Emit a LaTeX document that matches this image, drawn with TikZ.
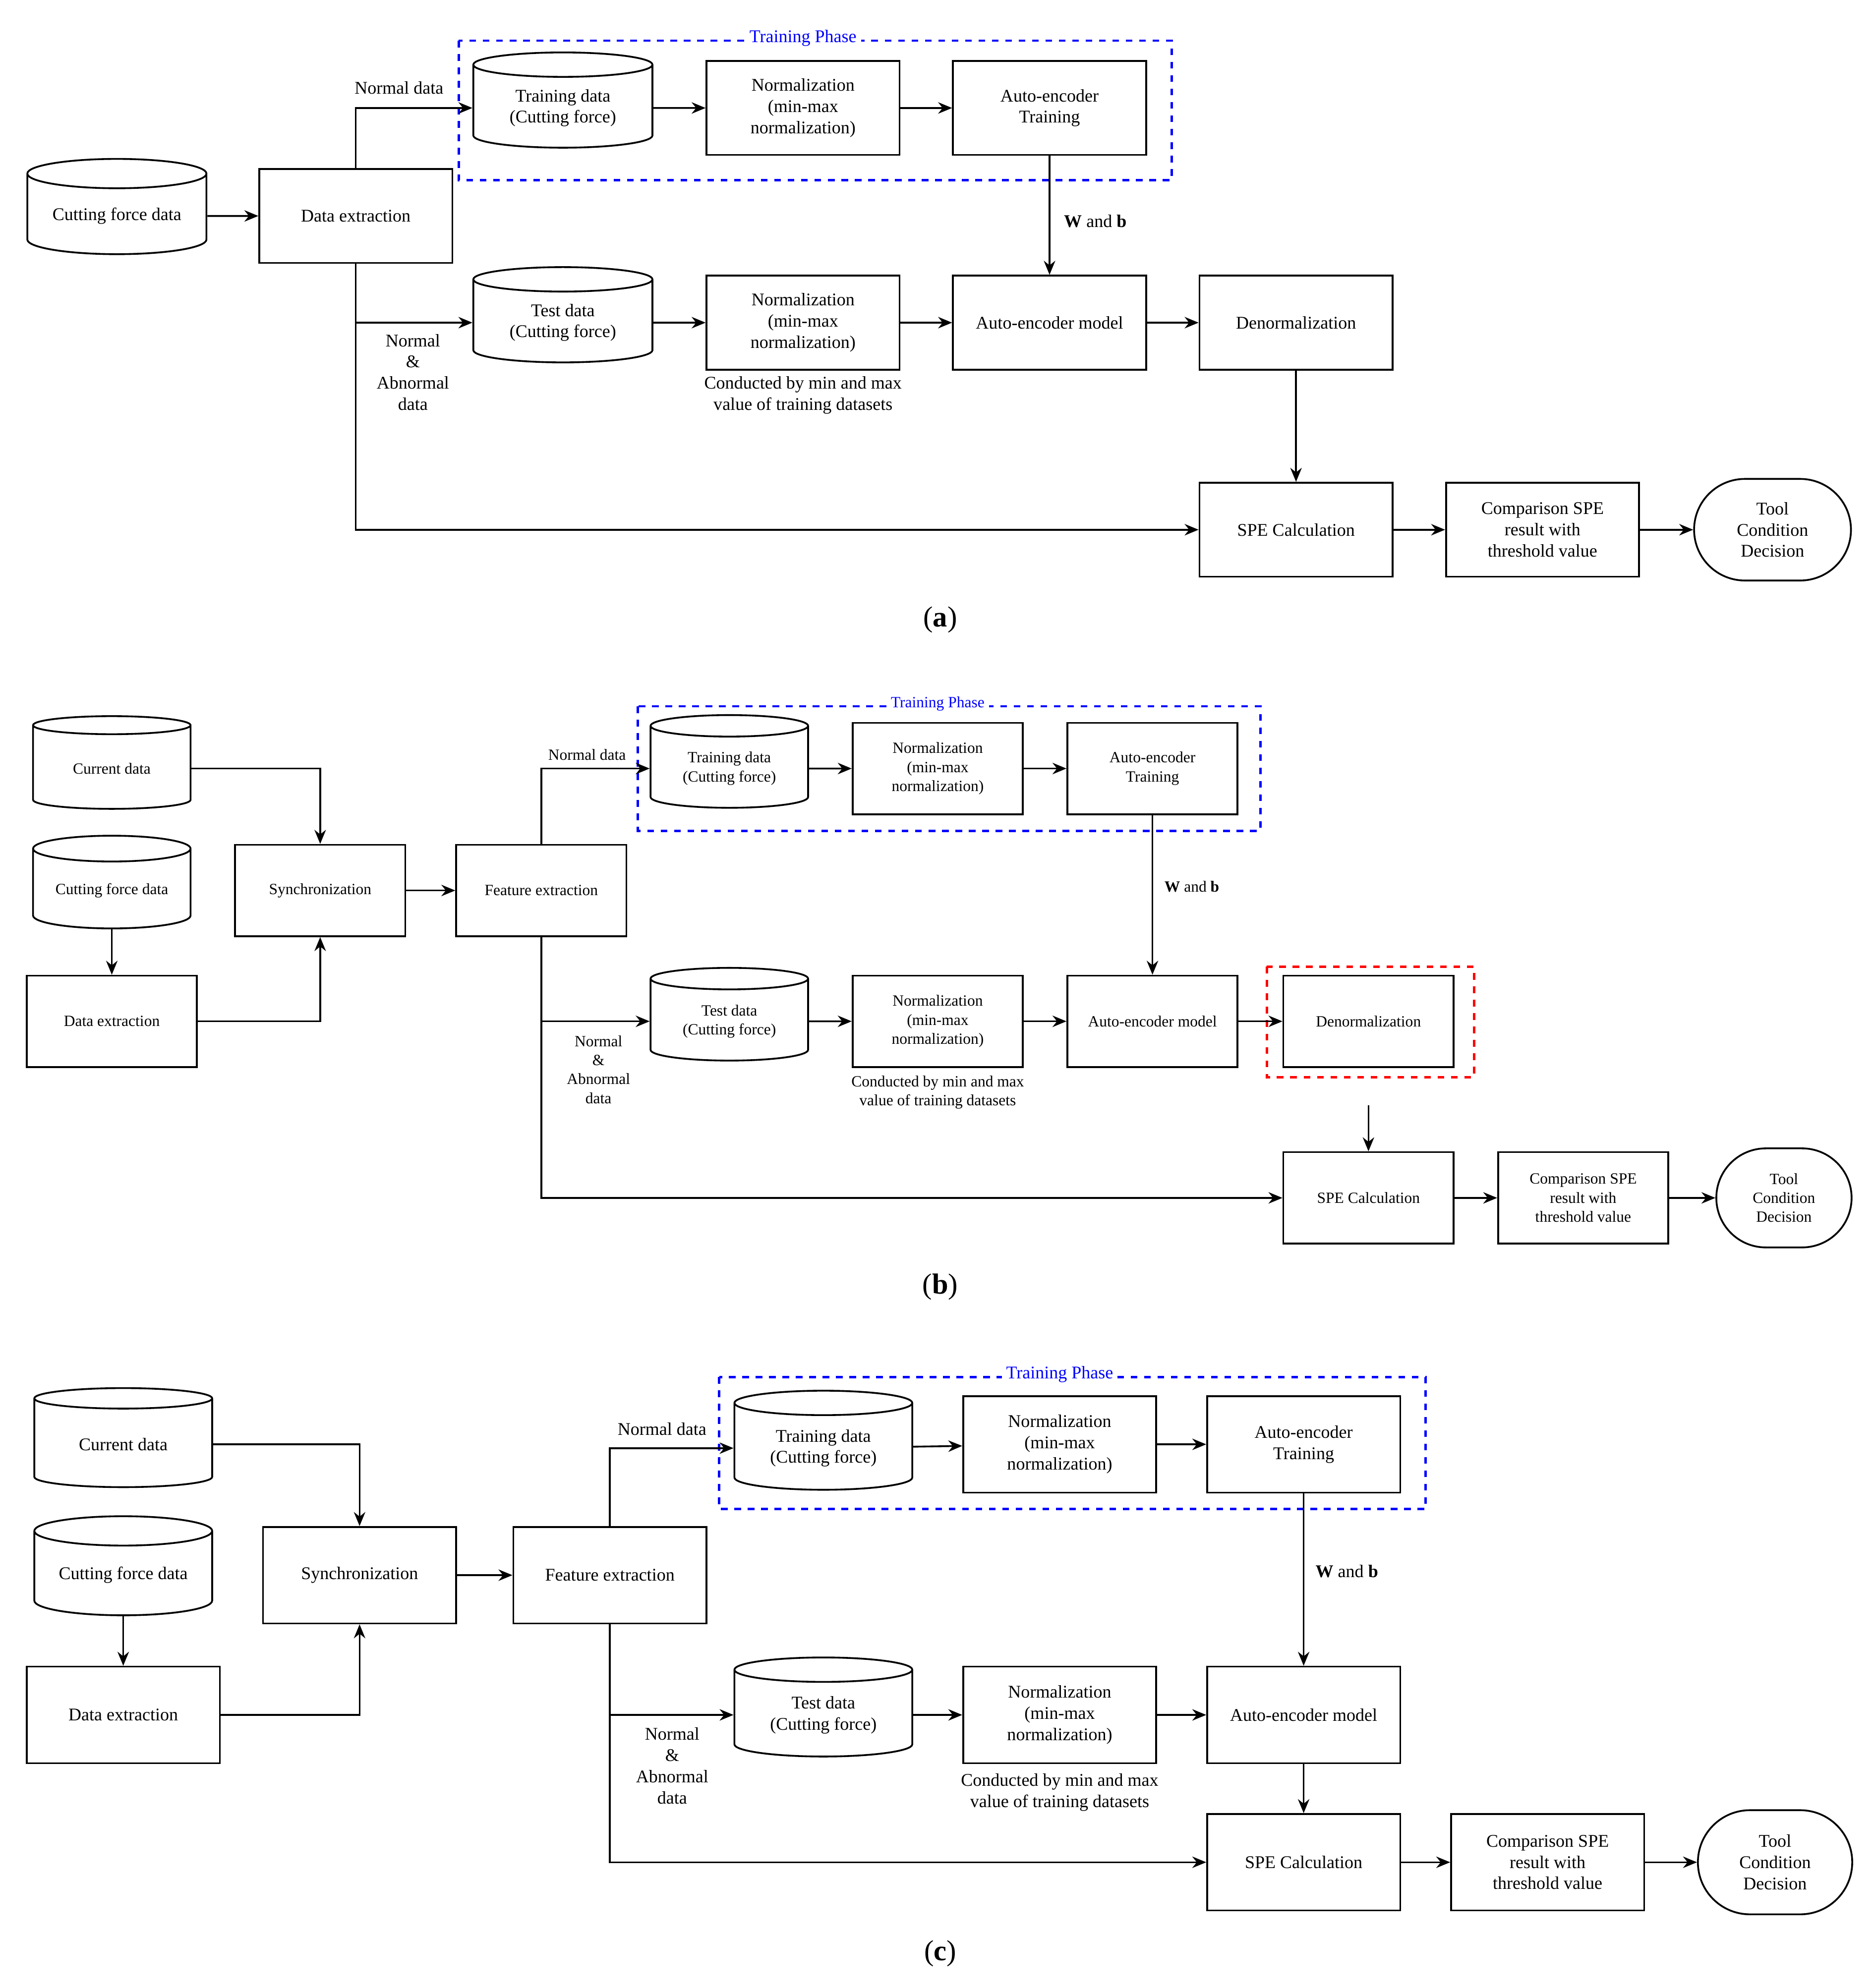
\documentclass[tikz,border=0pt]{standalone}
\usepackage{fontspec}
\setmainfont{Liberation Serif}
\usetikzlibrary{shapes.geometric,shapes.misc,arrows.meta}
\tikzset{
  box/.style={draw,line width=0.8pt,align=center,inner sep=1pt},
  db/.style={draw,line width=0.8pt,cylinder,shape border rotate=90,aspect=0.22,align=center,inner sep=1pt},
  term/.style={draw,line width=0.8pt,rounded rectangle,align=center,inner sep=1pt},
  arr/.style={line width=0.8pt,-{Stealth[length=2.2mm,width=1.8mm]}},
  lbl/.style={align=center,inner sep=1pt},
  phase/.style={draw=blue,dashed,line width=1.1pt},
  phasetxt/.style={text=blue,fill=white,inner sep=2pt}
}
\begin{document}
\begin{tikzpicture}[x=0.02cm,y=-0.02cm]
\useasboundingbox (0,0) rectangle (1474,1565);

% ---------- (a)
\begin{scope}[font=\fontsize{8}{9.5}\selectfont,
  box/.append style={minimum width=3.04cm,minimum height=1.48cm},
  db/.append style={minimum width=2.82cm,minimum height=1.5cm}]
\draw[phase] (361,32) rectangle (922,142);
\node[phasetxt] (phA) at (632,30) {Training Phase};
\node[db] (cfA) at (92,170) {Cutting force data};
\node[box] (deA) at (280,170) {Data extraction};
\node[db] (trA) at (443,85) {Training data\\(Cutting force)};
\node[box] (n1A) at (632,85) {Normalization\\(min-max\\normalization)};
\node[box] (aetA) at (826,85) {Auto-encoder\\Training};
\node[db] (teA) at (443,254) {Test data\\(Cutting force)};
\node[box] (n2A) at (632,254) {Normalization\\(min-max\\normalization)};
\node[box] (aemA) at (826,254) {Auto-encoder model};
\node[box] (dnA) at (1020,254) {Denormalization};
\node[box] (speA) at (1020,417) {SPE Calculation};
\node[box] (cmpA) at (1214,417) {Comparison SPE\\result with\\threshold value};
\node[term,minimum width=2.54cm,minimum height=1.6cm] (tcA) at (1395,417) {Tool\\Condition\\Decision};
\node[lbl] (ndA) at (314,69) {Normal data};
\node[lbl] (naA) at (325,293) {Normal\\\&\\Abnormal\\data};
\node[lbl] (cbA) at (632,311) {Conducted by min and max\\value of training datasets};
\node[lbl] (wbA) at (862,174) {$\mathbf{W}$ and $\mathbf{b}$};
\node[font=\fontsize{13}{15}\selectfont] (capA) at (740,488) {(\textbf{a})};
\draw[arr] (cfA) -- (deA);
\draw[arr] (deA.north) |- (trA.west);
\draw[arr] (deA.south) |- (teA.west);
\draw[arr] (deA.south) |- (speA.west);
\draw[arr] (trA) -- (n1A);
\draw[arr] (n1A) -- (aetA);
\draw[arr] (aetA) -- (aemA);
\draw[arr] (teA) -- (n2A);
\draw[arr] (n2A) -- (aemA);
\draw[arr] (aemA) -- (dnA);
\draw[arr] (dnA) -- (speA);
\draw[arr] (speA) -- (cmpA);
\draw[arr] (cmpA) -- (tcA);
\end{scope}

% ---------- (b)
\begin{scope}[font=\fontsize{7}{8.5}\selectfont,
  box/.append style={minimum width=2.68cm,minimum height=1.44cm},
  db/.append style={minimum width=2.48cm,minimum height=1.46cm}]
\draw[phase] (502,556) rectangle (992,654);
\node[phasetxt] (phB) at (738,554) {Training Phase};
\draw[draw=red,dashed,line width=1.1pt] (997,761) rectangle (1160,848);
\node[db] (cuB) at (88,605) {Current data};
\node[db] (cfB) at (88,701) {Cutting force data};
\node[box] (deB) at (88,804) {Data extraction};
\node[box] (syB) at (252,701) {Synchronization};
\node[box] (feB) at (426,701) {Feature extraction};
\node[db] (trB) at (574,605) {Training data\\(Cutting force)};
\node[box] (n1B) at (738,605) {Normalization\\(min-max\\normalization)};
\node[box] (aetB) at (907,605) {Auto-encoder\\Training};
\node[db] (teB) at (574,804) {Test data\\(Cutting force)};
\node[box] (n2B) at (738,804) {Normalization\\(min-max\\normalization)};
\node[box] (aemB) at (907,804) {Auto-encoder model};
\node[box] (dnB) at (1077,804) {Denormalization};
\node[box] (speB) at (1077,943) {SPE Calculation};
\node[box] (cmpB) at (1246,943) {Comparison SPE\\result with\\threshold value};
\node[term,minimum width=2.2cm,minimum height=1.56cm] (tcB) at (1404,943) {Tool\\Condition\\Decision};
\coordinate (dnoutB) at (1077,870);
\node[lbl] (ndB) at (462,594) {Normal data};
\node[lbl] (naB) at (471,842) {Normal\\\&\\Abnormal\\data};
\node[lbl] (cbB) at (738,860) {Conducted by min and max\\value of training datasets};
\node[lbl] (wbB) at (938,698) {$\mathbf{W}$ and $\mathbf{b}$};
\node[font=\fontsize{13}{15}\selectfont] (capB) at (740,1013) {(\textbf{b})};
\draw[arr] (cuB.east) -| (syB.north);
\draw[arr] (deB.east) -| (syB.south);
\draw[arr] (cfB) -- (deB);
\draw[arr] (syB) -- (feB);
\draw[arr] (feB.north) |- (trB.west);
\draw[arr] (feB.south) |- (teB.west);
\draw[arr] (feB.south) |- (speB.west);
\draw[arr] (trB) -- (n1B);
\draw[arr] (n1B) -- (aetB);
\draw[arr] (aetB) -- (aemB);
\draw[arr] (teB) -- (n2B);
\draw[arr] (n2B) -- (aemB);
\draw[arr] (aemB) -- (dnB);
\draw[arr] (dnoutB) -- (speB);
\draw[arr] (speB) -- (cmpB);
\draw[arr] (cmpB) -- (tcB);
\end{scope}

% ---------- (c)
\begin{scope}[font=\fontsize{8}{9.5}\selectfont,
  box/.append style={minimum width=3.04cm,minimum height=1.52cm},
  db/.append style={minimum width=2.8cm,minimum height=1.56cm}]
\draw[phase] (566,1084) rectangle (1122,1188);
\node[phasetxt] (phC) at (834,1082) {Training Phase};
\node[db] (cuC) at (97,1137) {Current data};
\node[db] (cfC) at (97,1240) {Cutting force data};
\node[box] (deC) at (97,1350) {Data extraction};
\node[box] (syC) at (283,1240) {Synchronization};
\node[box] (feC) at (480,1240) {Feature extraction};
\node[db] (trC) at (648,1140) {Training data\\(Cutting force)};
\node[box] (n1C) at (834,1137) {Normalization\\(min-max\\normalization)};
\node[box] (aetC) at (1026,1137) {Auto-encoder\\Training};
\node[db] (teC) at (648,1350) {Test data\\(Cutting force)};
\node[box] (n2C) at (834,1350) {Normalization\\(min-max\\normalization)};
\node[box] (aemC) at (1026,1350) {Auto-encoder model};
\node[box] (speC) at (1026,1466) {SPE Calculation};
\node[box] (cmpC) at (1218,1466) {Comparison SPE\\result with\\threshold value};
\node[term,minimum width=2.5cm,minimum height=1.64cm] (tcC) at (1397,1466) {Tool\\Condition\\Decision};
\node[lbl] (ndC) at (521,1125) {Normal data};
\node[lbl] (naC) at (529,1390) {Normal\\\&\\Abnormal\\data};
\node[lbl] (cbC) at (834,1411) {Conducted by min and max\\value of training datasets};
\node[lbl] (wbC) at (1060,1237) {$\mathbf{W}$ and $\mathbf{b}$};
\node[font=\fontsize{13}{15}\selectfont] (capC) at (740,1538) {(\textbf{c})};
\draw[arr] (cuC.east) -| (syC.north);
\draw[arr] (deC.east) -| (syC.south);
\draw[arr] (cfC) -- (deC);
\draw[arr] (syC) -- (feC);
\draw[arr] (feC.north) |- (trC.west);
\draw[arr] (feC.south) |- (teC.west);
\draw[arr] (feC.south) |- (speC.west);
\draw[arr] (trC) -- (n1C);
\draw[arr] (n1C) -- (aetC);
\draw[arr] (aetC) -- (aemC);
\draw[arr] (teC) -- (n2C);
\draw[arr] (n2C) -- (aemC);
\draw[arr] (aemC) -- (speC);
\draw[arr] (speC) -- (cmpC);
\draw[arr] (cmpC) -- (tcC);
\end{scope}
\end{tikzpicture}
\end{document}
